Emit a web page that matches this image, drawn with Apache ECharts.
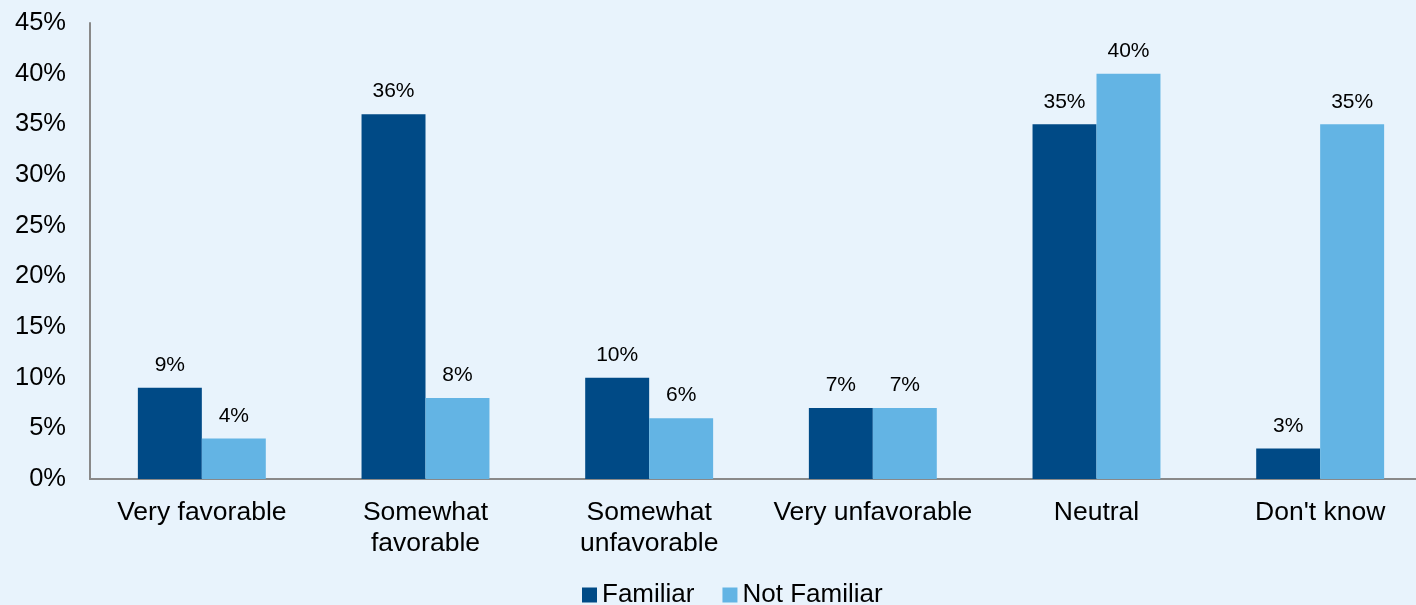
<!DOCTYPE html>
<html><head><meta charset="utf-8">
<script src="https://cdn.jsdelivr.net/npm/echarts@6/dist/echarts.min.js"></script>
<style>html,body{margin:0;padding:0;background:#E8F3FC;overflow:hidden;width:1416px;height:605px;}#c{width:1432px;height:605px;}</style>
</head><body><div id="c"></div>
<script>
var categories = ['Very favorable', 'Somewhat\nfavorable', 'Somewhat\nunfavorable', 'Very unfavorable', 'Neutral', "Don't know"];
var familiar = [9, 36, 10, 7, 35, 3];
var notFamiliar = [4, 8, 6, 7, 40, 35];
var chart = echarts.init(document.getElementById('c'));
var font = 'Liberation Sans, Arial, sans-serif';
chart.setOption({
  backgroundColor: '#E8F3FC',
  animation: false,
  textStyle: {fontFamily: font},
  grid: {left: 90, right: 0, top: 23, bottom: 126, containLabel: false},
  legend: {
    bottom: -8, left: 577, itemWidth: 15, itemHeight: 15, itemGap: 28,
    icon: 'rect',
    textStyle: {fontSize: 26, color: '#000', fontFamily: font},
    data: ['Familiar', 'Not Familiar']
  },
  xAxis: {
    type: 'category', data: categories,
    axisLine: {lineStyle: {color: '#898989', width: 2}},
    axisTick: {show: false},
    axisLabel: {fontSize: 26.5, color: '#000', margin: 18, lineHeight: 31, fontFamily: font, interval: 0}
  },
  yAxis: {
    type: 'value', min: 0, max: 45, interval: 5,
    axisLine: {show: true, lineStyle: {color: '#898989', width: 2}},
    axisTick: {show: false},
    splitLine: {show: false},
    axisLabel: {fontSize: 25.5, color: '#000', margin: 24, formatter: '{value}%', fontFamily: font}
  },
  series: [
    {name: 'Familiar', type: 'bar', data: familiar, barGap: '0%', barCategoryGap: '42.8%',
     itemStyle: {color: '#004A86'},
     label: {show: true, position: 'top', distance: 12, formatter: '{c}%', fontSize: 21, color: '#000', fontFamily: font}},
    {name: 'Not Familiar', type: 'bar', data: notFamiliar, barGap: '0%', barCategoryGap: '42.8%',
     itemStyle: {color: '#63B4E4'},
     label: {show: true, position: 'top', distance: 12, formatter: '{c}%', fontSize: 21, color: '#000', fontFamily: font}}
  ]
});
</script></body></html>
